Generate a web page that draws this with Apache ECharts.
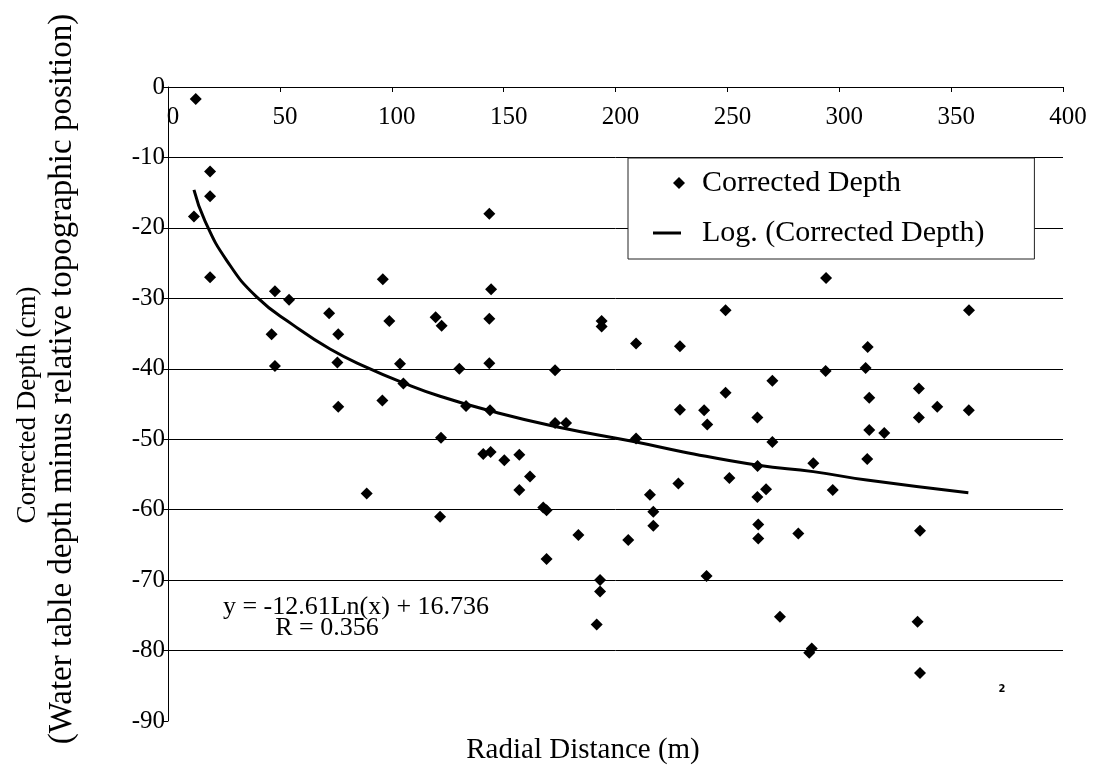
<!DOCTYPE html>
<html>
<head>
<meta charset="utf-8">
<script src="https://cdn.jsdelivr.net/npm/echarts@6/dist/echarts.min.js"></script>
<style>
html,body{margin:0;padding:0;background:#fff;}
#chart{width:1094px;height:772px;}
</style>
</head>
<body>
<div id="chart"></div>
<script>
// Scatter data: radial distance (m) and corrected depth (cm)
const radialDistance = [
  12.4, 18.8, 18.8, 11.6, 18.8, 47.8, 54.1, 72.0, 96.0, 98.9,
  119.6, 122.3, 46.3, 76.1, 143.6, 47.8, 75.7, 103.7, 105.2, 130.2,
  143.6, 76.1, 95.8, 133.2, 143.9, 122.0, 140.9, 144.2, 88.8, 121.6,
  144.4, 193.8, 193.8, 209.2, 228.8, 249.2, 173.0, 173.0, 177.9, 209.2,
  228.8, 239.6, 241.0, 249.2, 263.4, 270.1, 270.1, 263.5, 150.3, 157.0,
  161.8, 157.0, 215.4, 228.1, 250.9, 263.4, 267.3, 167.7, 169.2, 216.9,
  216.9, 263.8, 263.8, 281.7, 183.4, 205.7, 169.2, 193.1, 193.1, 240.7,
  191.6, 273.5, 294.1, 358.0, 312.7, 293.9, 311.8, 313.4, 335.6, 343.8,
  335.6, 357.9, 313.4, 320.1, 288.4, 312.5, 297.1, 336.1, 335.0, 287.7,
  286.6, 336.1, 143.6
];
const correctedDepth = [
  -1.7, -12.0, -15.5, -18.4, -27.0, -29.0, -30.2, -32.1, -27.3, -33.2,
  -32.7, -33.9, -35.1, -35.1, -32.9, -39.6, -39.1, -39.3, -42.1, -40.0,
  -39.2, -45.4, -44.5, -45.3, -45.9, -49.8, -52.1, -51.8, -57.7, -61.0,
  -28.7, -33.2, -34.0, -36.4, -36.8, -31.7, -40.2, -47.7, -47.7, -49.9,
  -45.8, -45.9, -47.9, -43.4, -46.9, -41.7, -50.4, -53.8, -53.0, -52.2,
  -55.3, -57.2, -57.9, -56.3, -55.5, -58.2, -57.1, -59.7, -60.1, -60.3,
  -62.3, -62.1, -64.1, -63.4, -63.6, -64.3, -67.0, -70.0, -71.6, -69.4,
  -76.3, -75.2, -27.1, -31.7, -36.9, -40.3, -39.9, -44.1, -42.8, -45.4,
  -46.9, -45.9, -48.7, -49.1, -53.4, -52.8, -57.2, -63.0, -75.9, -79.7,
  -80.3, -83.2, -18.0
];
// Trend curve
const trendX = [11.6, 16.5, 26.2, 39.6, 56.0, 72.4, 88.8, 105.2, 121.6, 144.2, 173.0, 209.2, 230.3, 263.8, 288.4, 312.3, 357.7];
const trendY = [-14.6, -19.0, -24.6, -29.8, -33.8, -37.2, -39.8, -42.0, -43.9, -46.0, -48.2, -50.4, -51.8, -53.7, -54.6, -55.8, -57.6];

const seriesNames = ['Corrected Depth', 'Log. (Corrected Depth)'];
const equationLines = ['y = -12.61Ln(x) + 16.736', 'R = 0.356'];
const xTitle = 'Radial Distance (m)';
const yTitleLines = ['Corrected Depth (cm)', '(Water table depth minus relative topographic position)'];
const xRange = [0, 400, 50];
const yRange = [-90, 0, 10];

const FONT = 'Liberation Serif';
const scatterData = radialDistance.map((x, i) => [x, correctedDepth[i]]);
const trendData = trendX.map((x, i) => [x, trendY[i]]);

const chart = echarts.init(document.getElementById('chart'), null, {renderer: 'canvas'});
chart.setOption({
  backgroundColor: '#fff',
  animation: false,
  grid: {left: 168, right: 31, top: 87, bottom: 51, containLabel: false},
  xAxis: {
    type: 'value', min: xRange[0], max: xRange[1], interval: xRange[2],
    position: 'top',
    axisLine: {onZero: false, lineStyle: {color: '#000', width: 1}},
    axisTick: {show: true, inside: true, length: 5, lineStyle: {color: '#000'}},
    axisLabel: {inside: true, color: '#000', fontFamily: FONT, fontSize: 25, margin: 18, padding: [0, 0, 0, 10], showMinLabel: true, showMaxLabel: true},
    splitLine: {show: false}
  },
  yAxis: {
    type: 'value', min: yRange[0], max: yRange[1], interval: yRange[2],
    axisLine: {show: true, onZero: false, lineStyle: {color: '#000', width: 1}},
    axisTick: {show: true, length: 6, lineStyle: {color: '#000'}},
    axisLabel: {color: '#000', fontFamily: FONT, fontSize: 25, margin: 3},
    splitLine: {show: true, lineStyle: {color: ['rgba(0,0,0,0)', '#000', '#000', '#000', '#000', '#000', '#000', '#000', '#000', '#000'], width: 1}}
  },
  legend: {
    orient: 'vertical', left: 628, top: 158,
    padding: [8, 50, 9, 25],
    itemGap: 16, itemWidth: 36, itemHeight: 12,
    backgroundColor: '#fff', borderColor: '#222', borderWidth: 1, borderRadius: 0,
    textStyle: {fontFamily: FONT, fontSize: 30, color: '#000', lineHeight: 34, padding: [0, 0, 0, 8]},
    data: [
      {name: seriesNames[0], icon: 'path://M0,0M36,12M20,6L26,0L32,6L26,12Z', itemStyle: {color: '#000', opacity: 1}},
      {name: seriesNames[1], icon: 'path://M0,0M36,12M0,4.5L28,4.5L28,7.5L0,7.5Z', itemStyle: {color: '#000', opacity: 1, borderWidth: 0}, lineStyle: {width: 0, opacity: 0}}
    ]
  },
  series: [
    {
      name: seriesNames[0], type: 'scatter', data: scatterData,
      symbol: 'diamond', symbolSize: 12,
      itemStyle: {color: '#000', opacity: 1}, z: 3
    },
    {
      name: seriesNames[1], type: 'line', data: trendData,
      smooth: true, symbol: 'none', showSymbol: false,
      lineStyle: {color: '#000', width: 3}, itemStyle: {color: '#000'}, z: 2
    }
  ],
  graphic: [
    {type: 'text', x: 356, y: 607, style: {text: equationLines[0], font: '26px "Liberation Serif"', fill: '#000', textAlign: 'center', textVerticalAlign: 'middle'}},
    {type: 'text', x: 327, y: 628, style: {text: equationLines[1], font: '26px "Liberation Serif"', fill: '#000', textAlign: 'center', textVerticalAlign: 'middle'}},
    {type: 'text', x: 1002, y: 689, style: {text: '2', font: 'bold 10px "DejaVu Sans"', fill: '#000', textAlign: 'center', textVerticalAlign: 'middle'}},
    {type: 'text', x: 583, y: 750, style: {text: xTitle, font: '29px "Liberation Serif"', fill: '#000', textAlign: 'center', textVerticalAlign: 'middle'}},
    {type: 'text', x: 28, y: 405, rotation: Math.PI / 2, style: {text: yTitleLines[0], font: '27px "Liberation Serif"', fill: '#000', textAlign: 'center', textVerticalAlign: 'middle'}},
    {type: 'text', x: 62, y: 379, rotation: Math.PI / 2, style: {text: yTitleLines[1], font: '33px "Liberation Serif"', fill: '#000', textAlign: 'center', textVerticalAlign: 'middle'}}
  ]
});
</script>
</body>
</html>
